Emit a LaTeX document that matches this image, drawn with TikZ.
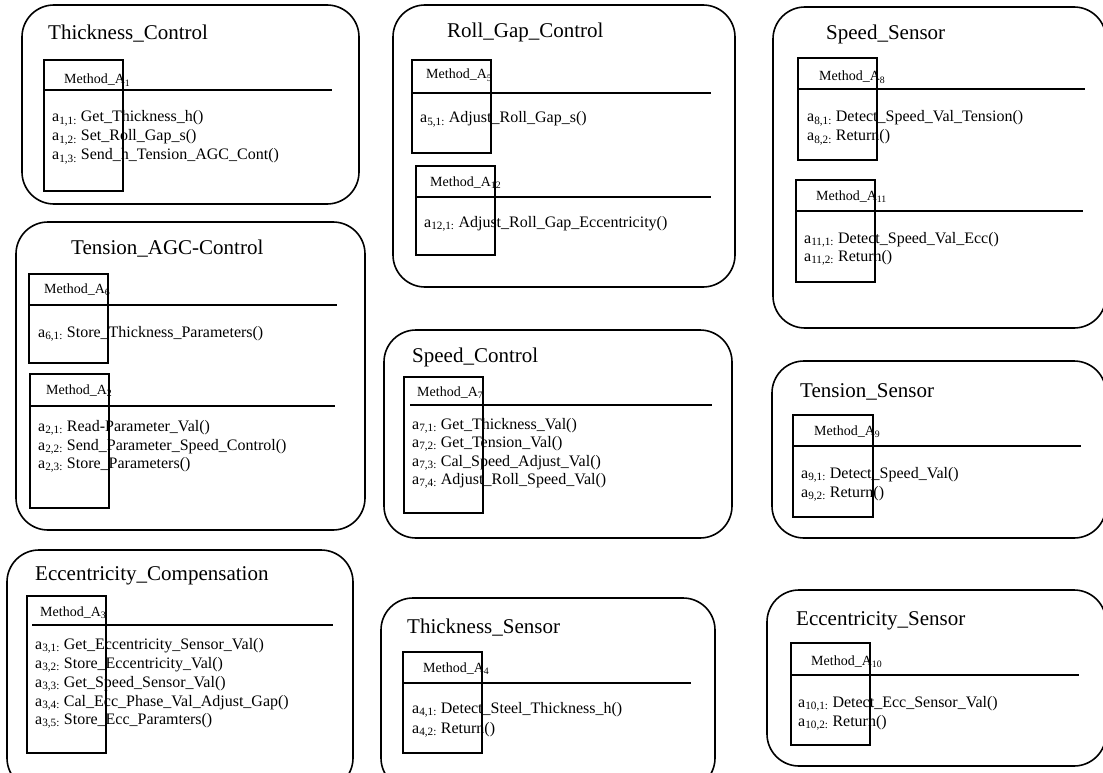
\documentclass[tikz,border=0pt]{standalone}
\usepackage{fontspec}
\setmainfont{Liberation Serif}
\tikzset{
  cont/.style={draw=black, line width=1.6pt, rounded corners=32pt},
  mbox/.style={draw=black, line width=1.6pt},
  mline/.style={draw=black, line width=1.6pt},
  ttl/.style={anchor=base west, inner sep=0pt, font=\fontsize{21}{25}\selectfont},
  hdr/.style={anchor=base west, inner sep=0pt, font=\fontsize{14}{16}\selectfont},
  itm/.style={anchor=base west, inner sep=0pt, font=\fontsize{16}{19}\selectfont},
}
\newcommand\Itm[5]{\node[itm] (#1) at (#2,#3+5) {a\textsubscript{#4} #5};}
\newcommand\Hdr[4]{\node[hdr] (#1) at (#2,#3+5) {Method\_A\textsubscript{#4}};}
\newcommand\Ttl[4]{\node[ttl] (#1) at (#2,#3+7) {#4};}
\newcommand\MBox[7]{\draw[mbox] (#1,#2) rectangle (#3,#4); \draw[mline] (#6,#5) -- (#7,#5);}
\begin{document}
\begin{tikzpicture}[x=1pt,y=-1pt]
\useasboundingbox (0,0) rectangle (1103,773);
\clip (0,0) rectangle (1103,773);
\fill[white] (0,0) rectangle (1103,773);
% containers
\draw[cont] (22,5) rectangle (359,204);
\draw[cont] (393,5) rectangle (735,287);
\draw[cont] (773,7) rectangle (1106,328);
\draw[cont] (16,222) rectangle (365,530);
\draw[cont] (384,330) rectangle (732,538);
\draw[cont] (772,361) rectangle (1106,538);
\draw[cont] (7,550) rectangle (353,790);
\draw[cont] (381,598) rectangle (715,790);
\draw[cont] (767,590) rectangle (1106,766);
% titles
\Ttl{t1}{48}{33}{Thickness\_Control}
\Ttl{t2}{447}{31}{Roll\_Gap\_Control}
\Ttl{t3}{826}{33}{Speed\_Sensor}
\Ttl{t4}{71}{247}{Tension\_AGC-Control}
\Ttl{t5}{412}{355}{Speed\_Control}
\Ttl{t6}{800}{390}{Tension\_Sensor}
\Ttl{t7}{35}{573}{Eccentricity\_Compensation}
\Ttl{t8}{407}{626}{Thickness\_Sensor}
\Ttl{t9}{796}{618}{Eccentricity\_Sensor}
% A1
\MBox{44}{60}{123}{191}{90}{44}{332}
\Hdr{h1}{64}{79}{1}
\Itm{i11}{52}{117}{1,1:}{Get\_Thickness\_h()}
\Itm{i12}{52}{136}{1,2:}{Set\_Roll\_Gap\_s()}
\Itm{i13}{52}{155}{1,3:}{Send\_h\_Tension\_AGC\_Cont()}
% A5
\MBox{412}{60}{491}{153}{93}{412}{711}
\Hdr{h5}{426}{74}{5}
\Itm{i51}{420}{118}{5,1:}{Adjust\_Roll\_Gap\_s()}
% A12
\MBox{416}{166}{495}{255}{197}{416}{711}
\Hdr{h12}{430}{181}{12}
\Itm{i121}{424}{222}{12,1:}{Adjust\_Roll\_Gap\_Eccentricity()}
% A8
\MBox{798}{58}{877}{160}{89}{798}{1085}
\Hdr{h8}{819}{76}{8}
\Itm{i81}{807}{117}{8,1:}{Detect\_Speed\_Val\_Tension()}
\Itm{i82}{807}{136}{8,2:}{Return()}
% A11
\MBox{796}{180}{875}{282}{211}{796}{1083}
\Hdr{h11}{816}{195}{11}
\Itm{i111}{804}{238}{11,1:}{Detect\_Speed\_Val\_Ecc()}
\Itm{i112}{804}{256}{11,2:}{Return()}
% A6
\MBox{29}{274}{108}{363}{305}{29}{337}
\Hdr{h6}{44}{288}{6}
\Itm{i61}{38}{332}{6,1:}{Store\_Thickness\_Parameters()}
% A2
\MBox{30}{374}{109}{508}{406}{30}{335}
\Hdr{h2}{46}{389}{2}
\Itm{i21}{38}{426}{2,1:}{Read-Parameter\_Val()}
\Itm{i22}{38}{445}{2,2:}{Send\_Parameter\_Speed\_Control()}
\Itm{i23}{38}{463}{2,3:}{Store\_Parameters()}
% A7
\MBox{404}{377}{483}{513}{405}{410}{712}
\Hdr{h7}{417}{391}{7}
\Itm{i71}{412}{424}{7,1:}{Get\_Thickness\_Val()}
\Itm{i72}{412}{442}{7,2:}{Get\_Tension\_Val()}
\Itm{i73}{412}{461}{7,3:}{Cal\_Speed\_Adjust\_Val()}
\Itm{i74}{412}{479}{7,4:}{Adjust\_Roll\_Speed\_Val()}
% A9
\MBox{793}{415}{873}{517}{446}{793}{1081}
\Hdr{h9}{814}{430}{9}
\Itm{i91}{801}{473}{9,1:}{Detect\_Speed\_Val()}
\Itm{i92}{801}{492}{9,2:}{Return()}
% A3
\MBox{27}{596}{106}{753}{625}{32}{333}
\Hdr{h3}{40}{611}{3}
\Itm{i31}{35}{644}{3,1:}{Get\_Eccentricity\_Sensor\_Val()}
\Itm{i32}{35}{663}{3,2:}{Store\_Eccentricity\_Val()}
\Itm{i33}{35}{682}{3,3:}{Get\_Speed\_Sensor\_Val()}
\Itm{i34}{35}{701}{3,4:}{Cal\_Ecc\_Phase\_Val\_Adjust\_Gap()}
\Itm{i35}{35}{719}{3,5:}{Store\_Ecc\_Paramters()}
% A4
\MBox{403}{652}{482}{753}{683}{403}{691}
\Hdr{h4}{423}{667}{4}
\Itm{i41}{412}{708}{4,1:}{Detect\_Steel\_Thickness\_h()}
\Itm{i42}{412}{728}{4,2:}{Return()}
% A10
\MBox{791}{643}{870}{745}{675}{791}{1079}
\Hdr{h10}{811}{660}{10}
\Itm{i101}{798}{702}{10,1:}{Detect\_Ecc\_Sensor\_Val()}
\Itm{i102}{798}{721}{10,2:}{Return()}
\end{tikzpicture}
\end{document}
